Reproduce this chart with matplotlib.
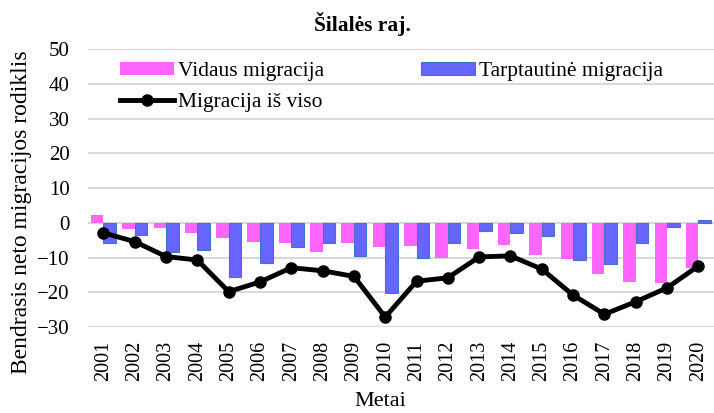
import matplotlib.pyplot as plt
import numpy as np

plt.rcParams['font.family'] = ['Liberation Serif', 'DejaVu Serif']

# Duomenys
metai = [str(m) for m in range(2001, 2021)]
vidaus = [2.4, -1.9, -1.4, -2.9, -4.3, -5.5, -5.7, -8.4, -5.9, -7.0,
          -6.8, -10.1, -7.6, -6.5, -9.3, -10.3, -14.6, -17.0, -17.4, -13.0]
tarptautine = [-5.9, -3.6, -8.4, -7.9, -15.7, -11.6, -7.0, -5.7, -9.5, -20.2,
               -10.1, -5.7, -2.3, -3.0, -3.9, -10.6, -11.7, -5.7, -1.2, 0.7]
is_viso = [-2.9, -5.4, -9.7, -10.7, -19.8, -17.0, -12.9, -13.8, -15.4, -27.1,
           -16.8, -15.8, -9.8, -9.5, -13.3, -20.8, -26.3, -22.7, -18.7, -12.4]

fig = plt.figure(figsize=(7.14, 4.13), dpi=100)
ax = fig.add_axes([0.123, 0.208, 0.877, 0.673])

x = np.arange(len(metai))
w = 0.4
b1 = ax.bar(x - w / 2, vidaus, w, color='#FF66FF', label='Vidaus migracija', zorder=2)
b2 = ax.bar(x + w / 2, tarptautine, w, color='#6666FF', edgecolor='#4472C4',
            linewidth=0.8, label='Tarptautinė migracija', zorder=2)
ln, = ax.plot(x, is_viso, color='black', lw=3.5, marker='o', ms=8,
              label='Migracija iš viso', zorder=3)

ax.set_xlim(-0.5, len(metai) - 0.5)
ax.set_ylim(-30, 50)
ax.set_yticks(range(-30, 51, 10))
ax.set_xticks(x)
ax.set_xticklabels(metai, rotation=90, fontsize=14.5)
ax.tick_params(axis='y', labelsize=15, length=0, pad=13)
ax.tick_params(axis='x', length=0, pad=10)
ax.grid(axis='y', color='#D9D9D9', lw=1.5, zorder=0)
ax.set_axisbelow(True)
for s in ax.spines.values():
    s.set_visible(False)

fig.text(362 / 714, 1 - 24 / 413, 'Šilalės raj.', fontsize=15.5,
         fontweight='bold', ha='center', va='center')
fig.text(380 / 714, 1 - 402 / 413, 'Metai', fontsize=16, ha='center', va='center')
fig.text(22 / 714, 1 - 212 / 413, 'Bendrasis neto migracijos rodiklis',
         fontsize=17, rotation=90, ha='center', va='center')

# tvarka: stulpeliais -> pirmoje eiluteje abu stulpeliai
ax.legend([b1, ln, b2], ['Vidaus migracija', 'Migracija iš viso', 'Tarptautinė migracija'],
          loc='upper left', bbox_to_anchor=(0.051, 0.955), ncol=2, frameon=False,
          fontsize=15.5, handlelength=2.5, handleheight=0.6, handletextpad=0.2,
          columnspacing=4.5, labelspacing=0.55, borderaxespad=0, borderpad=0)

fig.savefig('out.png', dpi=100)
